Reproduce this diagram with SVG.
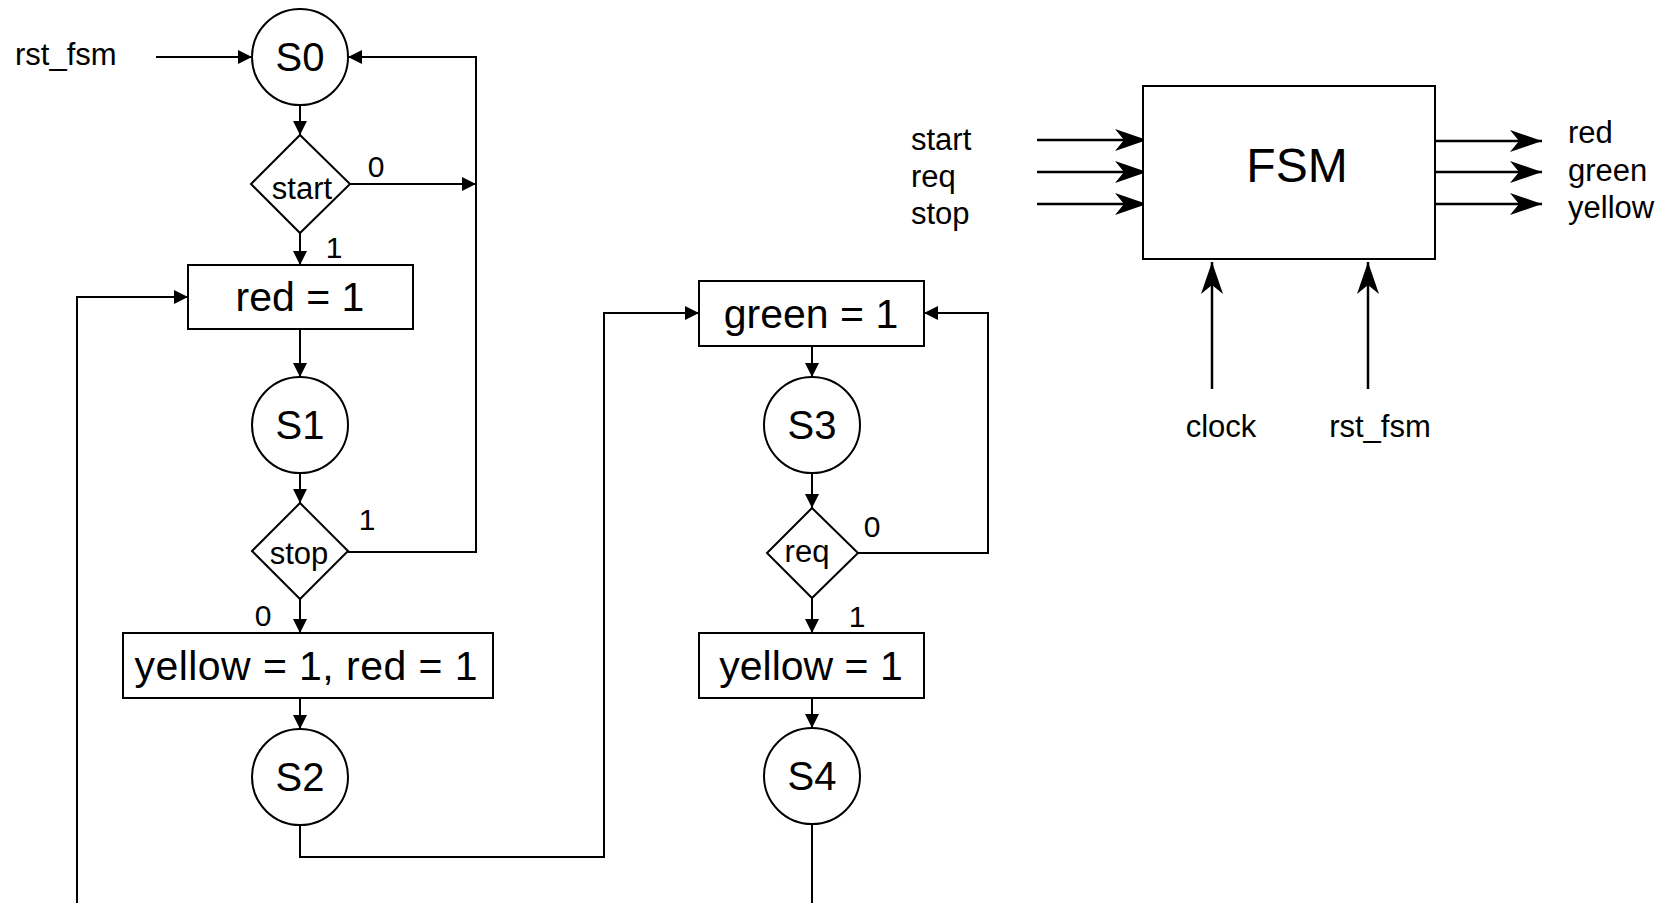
<svg xmlns="http://www.w3.org/2000/svg" width="1670" height="903" viewBox="0 0 1670 903">
<style>
  .shape { fill: #ffffff; stroke: #000000; stroke-width: 2; }
  .wire { fill: none; stroke: #000000; stroke-width: 2; }
  .arr { marker-end: url(#tri); }
  .big { fill: none; stroke: #000000; stroke-width: 2.5; marker-end: url(#open); }
  text { font-family: "Liberation Sans", Arial, sans-serif; fill: #000000; }
  .state { font-size: 40px; text-anchor: middle; }
  .act { font-size: 41px; text-anchor: middle; }
  .cond { font-size: 31px; text-anchor: middle; }
  .edge { font-size: 30px; text-anchor: middle; }
  .sig { font-size: 31px; }
  .fsm { font-size: 48px; text-anchor: middle; }
</style>
<defs>
  <marker id="tri" viewBox="0 0 14 14" refX="14" refY="7" markerWidth="14" markerHeight="14" markerUnits="userSpaceOnUse" orient="auto">
    <path d="M0,0 L14,7 L0,14 Z" fill="#000000"/>
  </marker>
  <marker id="open" viewBox="0 0 32 22" refX="32" refY="11" markerWidth="32" markerHeight="22" markerUnits="userSpaceOnUse" orient="auto">
    <path d="M0,0 L32,11 L0,22 L9,11 Z" fill="#000000"/>
  </marker>
</defs>

<g id="connectors">
  <line class="wire arr" x1="156" y1="57" x2="252" y2="57"/>
  <line class="wire arr" x1="300" y1="105" x2="300" y2="135"/>
  <line class="wire arr" x1="350" y1="184" x2="476" y2="184"/>
  <line class="wire arr" x1="300" y1="233" x2="300" y2="265"/>
  <polyline class="wire arr" points="348,552 476,552 476,57 348,57"/>
  <line class="wire arr" x1="300" y1="329" x2="300" y2="377"/>
  <line class="wire arr" x1="300" y1="473" x2="300" y2="503"/>
  <line class="wire arr" x1="300" y1="599" x2="300" y2="633"/>
  <line class="wire arr" x1="300" y1="698" x2="300" y2="729"/>
  <polyline class="wire arr" points="300,825 300,857 604,857 604,313 699,313"/>
  <polyline class="wire arr" points="77,903 77,297 188,297"/>
  <line class="wire arr" x1="812" y1="346" x2="812" y2="377"/>
  <line class="wire arr" x1="812" y1="473" x2="812" y2="508"/>
  <polyline class="wire arr" points="858,553 988,553 988,313 924,313"/>
  <line class="wire arr" x1="812" y1="598" x2="812" y2="633"/>
  <line class="wire arr" x1="812" y1="698" x2="812" y2="728"/>
  <line class="wire" x1="812" y1="824" x2="812" y2="903"/>

  <line class="big" x1="1037" y1="140" x2="1147" y2="140"/>
  <line class="big" x1="1037" y1="172" x2="1147" y2="172"/>
  <line class="big" x1="1037" y1="204" x2="1147" y2="204"/>
  <line class="big" x1="1435" y1="141" x2="1542" y2="141"/>
  <line class="big" x1="1435" y1="172" x2="1542" y2="172"/>
  <line class="big" x1="1435" y1="204" x2="1542" y2="204"/>
  <line class="big" x1="1212" y1="389" x2="1212" y2="262"/>
  <line class="big" x1="1368" y1="389" x2="1368" y2="262"/>
</g>

<g id="labels">
  <text class="sig" x="15" y="65">rst_fsm</text>
  <text class="edge" x="376" y="177">0</text>
  <text class="edge" x="334" y="258">1</text>
  <text class="edge" x="367" y="530">1</text>
  <text class="edge" x="263" y="626">0</text>
  <text class="edge" x="872" y="537">0</text>
  <text class="edge" x="857" y="627">1</text>
</g>

<g id="S0">
  <circle class="shape" cx="300" cy="57" r="48"/>
  <text class="state" x="300" y="71">S0</text>
</g>
<g id="cond_start">
  <polygon class="shape" points="300,135 350,184 300,233 251,184"/>
  <text class="cond" x="302" y="199">start</text>
</g>
<g id="act_red">
  <rect class="shape" x="188" y="265" width="225" height="64"/>
  <text class="act" x="300" y="311">red = 1</text>
</g>
<g id="S1">
  <circle class="shape" cx="300" cy="425" r="48"/>
  <text class="state" x="300" y="439">S1</text>
</g>
<g id="cond_stop">
  <polygon class="shape" points="300,503 348,551 300,599 252,551"/>
  <text class="cond" x="299" y="564">stop</text>
</g>
<g id="act_yellow_red">
  <rect class="shape" x="123" y="633" width="370" height="65"/>
  <text class="act" x="306" y="680" textLength="343" lengthAdjust="spacing">yellow = 1, red = 1</text>
</g>
<g id="S2">
  <circle class="shape" cx="300" cy="777" r="48"/>
  <text class="state" x="300" y="791">S2</text>
</g>
<g id="act_green">
  <rect class="shape" x="699" y="281" width="225" height="65"/>
  <text class="act" x="811" y="328">green = 1</text>
</g>
<g id="S3">
  <circle class="shape" cx="812" cy="425" r="48"/>
  <text class="state" x="812" y="439">S3</text>
</g>
<g id="cond_req">
  <polygon class="shape" points="812,508 858,553 812,598 767,553"/>
  <text class="cond" x="807" y="562">req</text>
</g>
<g id="act_yellow">
  <rect class="shape" x="699" y="633" width="225" height="65"/>
  <text class="act" x="811" y="680">yellow = 1</text>
</g>
<g id="S4">
  <circle class="shape" cx="812" cy="776" r="48"/>
  <text class="state" x="812" y="790">S4</text>
</g>

<g id="FSM">
  <rect class="shape" x="1143" y="86" width="292" height="173" stroke-width="2.5"/>
  <text class="fsm" x="1297" y="182">FSM</text>
</g>
<g id="fsm_inputs">
  <text class="sig" x="911" y="150">start</text>
  <text class="sig" x="911" y="187">req</text>
  <text class="sig" x="911" y="224">stop</text>
</g>
<g id="fsm_outputs">
  <text class="sig" x="1568" y="143">red</text>
  <text class="sig" x="1568" y="181">green</text>
  <text class="sig" x="1568" y="218">yellow</text>
</g>
<g id="fsm_bottom">
  <text class="sig" x="1221" y="437" text-anchor="middle">clock</text>
  <text class="sig" x="1380" y="437" text-anchor="middle">rst_fsm</text>
</g>
</svg>
